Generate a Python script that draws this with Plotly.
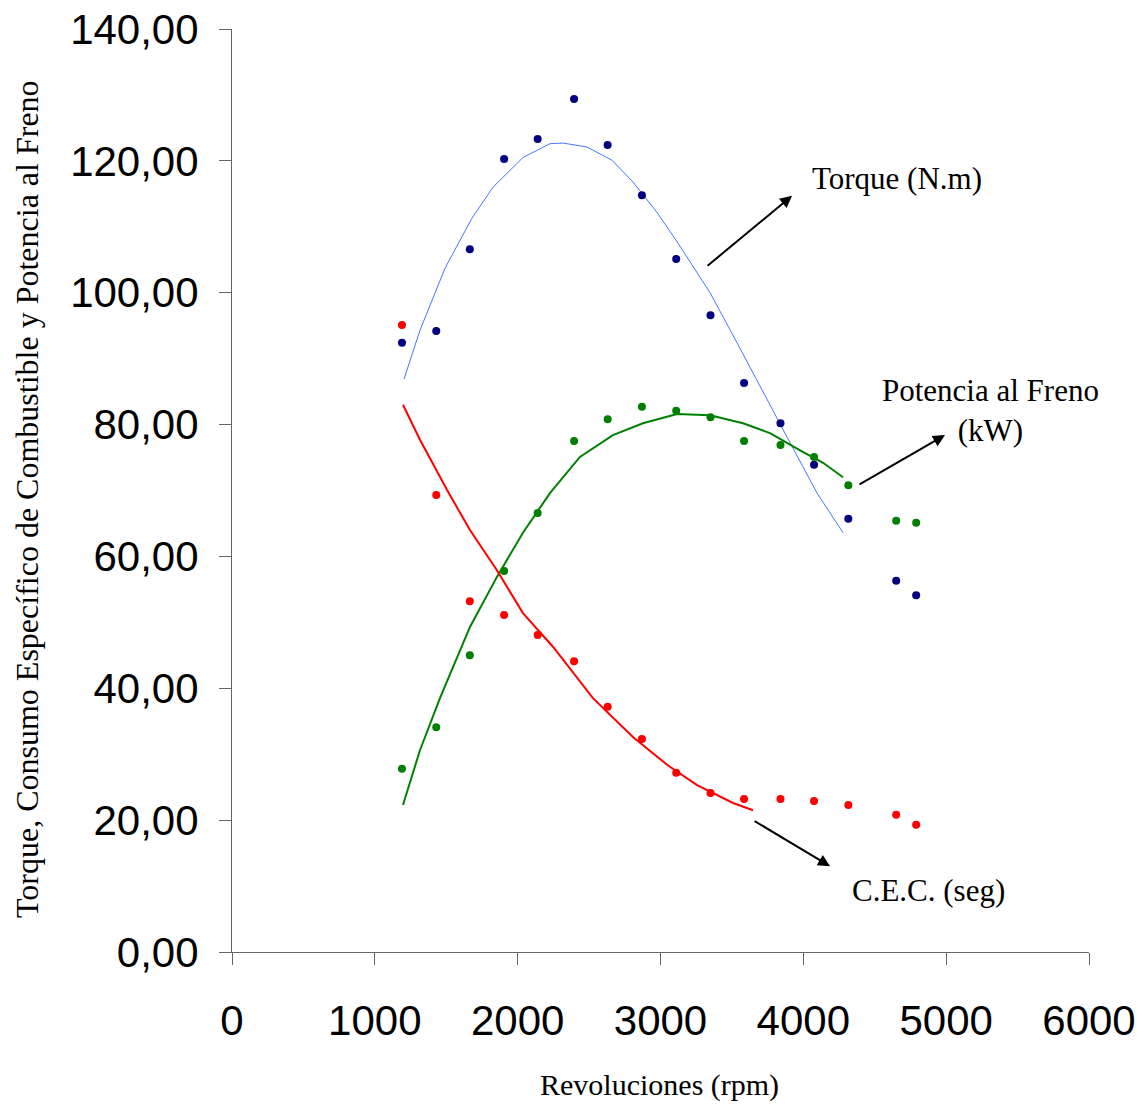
import plotly.graph_objects as go

# ---- data ----
rpm = [1190, 1430, 1665, 1905, 2140, 2395, 2630, 2870, 3110, 3350, 3585, 3840, 4075, 4315, 4650, 4790]
torque = [92.4, 94.2, 106.6, 120.3, 123.3, 129.4, 122.4, 114.8, 105.1, 96.6, 86.3, 80.2, 73.9, 65.7, 56.3, 54.1]
potencia = [27.8, 34.1, 45.0, 57.8, 66.6, 77.5, 80.8, 82.7, 82.1, 81.1, 77.5, 76.9, 75.1, 70.8, 65.4, 65.1]
cec = [95.1, 69.3, 53.2, 51.1, 48.1, 44.1, 37.2, 32.3, 27.2, 24.1, 23.2, 23.2, 22.9, 22.3, 20.8, 19.3]

# trend lines
torque_fit_x = [1204, 1316, 1491, 1680, 1827, 2037, 2226, 2317, 2485, 2660, 2807, 2975, 3123, 3347, 3536, 3746, 3886, 4096, 4278]
torque_fit_y = [86.9, 94.3, 103.7, 111.3, 116.0, 120.5, 122.6, 122.7, 122.1, 120.1, 116.8, 112.2, 107.5, 100.0, 92.4, 83.7, 78.1, 69.6, 63.6]
pot_fit_x = [1197, 1316, 1456, 1666, 1855, 2037, 2226, 2436, 2667, 2877, 3116, 3347, 3578, 3767, 3977, 4138, 4278]
pot_fit_y = [22.3, 30.6, 38.5, 49.3, 56.9, 63.6, 69.6, 75.1, 78.4, 80.2, 81.6, 81.4, 80.2, 78.7, 76.1, 74.2, 72.0]
cec_fit_x = [1197, 1316, 1505, 1666, 1855, 2037, 2247, 2527, 2807, 3046, 3256, 3508, 3648]
cec_fit_y = [83.0, 77.7, 70.1, 64.0, 57.9, 51.4, 46.3, 38.5, 32.6, 28.4, 25.3, 22.6, 21.5]

y_ticks = [0, 20, 40, 60, 80, 100, 120, 140]
y_ticktext = ["0,00", "20,00", "40,00", "60,00", "80,00", "100,00", "120,00", "140,00"]
x_ticks = [0, 1000, 2000, 3000, 4000, 5000, 6000]
x_ticktext = ["0", "1000", "2000", "3000", "4000", "5000", "6000"]

fig = go.Figure()
fig.add_trace(go.Scatter(x=torque_fit_x, y=torque_fit_y, mode="lines",
                         line=dict(color="#4477FF", width=1), showlegend=False))
fig.add_trace(go.Scatter(x=pot_fit_x, y=pot_fit_y, mode="lines",
                         line=dict(color="#008000", width=2), showlegend=False))
fig.add_trace(go.Scatter(x=cec_fit_x, y=cec_fit_y, mode="lines",
                         line=dict(color="#FF0000", width=2), showlegend=False))
fig.add_trace(go.Scatter(x=rpm, y=torque, mode="markers",
                         marker=dict(color="#000080", size=8), showlegend=False))
fig.add_trace(go.Scatter(x=rpm, y=potencia, mode="markers",
                         marker=dict(color="#008000", size=8), showlegend=False))
fig.add_trace(go.Scatter(x=rpm, y=cec, mode="markers",
                         marker=dict(color="#FF0000", size=8), showlegend=False))

serif = "Liberation Serif, Times New Roman, serif"
ann_font = dict(family=serif, size=31, color="black")

annotations = [
    dict(x=3921, y=114.7, ax=3319, ay=103.9, axref="x", ayref="y", xref="x", yref="y",
         showarrow=True, arrowhead=2, arrowsize=1.2, arrowwidth=2, arrowcolor="black", text=""),
    dict(x=4992, y=78.4, ax=4383, ay=70.8, axref="x", ayref="y", xref="x", yref="y",
         showarrow=True, arrowhead=2, arrowsize=1.2, arrowwidth=2, arrowcolor="black", text=""),
    dict(x=4187, y=13.0, ax=3648, ay=20.0, axref="x", ayref="y", xref="x", yref="y",
         showarrow=True, arrowhead=2, arrowsize=1.2, arrowwidth=2, arrowcolor="black", text=""),
    dict(x=4656, y=117.4, xref="x", yref="y", text="Torque (N.m)", showarrow=False, font=ann_font),
    dict(x=5307, y=82.1, xref="x", yref="y", text="Potencia al Freno<br>(kW)", showarrow=False,
         font=ann_font, align="center"),
    dict(x=4873, y=9.4, xref="x", yref="y", text="C.E.C. (seg)", showarrow=False, font=ann_font),
    dict(x=0.4994, y=-0.1441, xref="paper", yref="paper", text="Revoluciones (rpm)", showarrow=False,
         font=dict(family=serif, size=30, color="black"), xanchor="center", yanchor="middle"),
    dict(x=-0.2392, y=0.4908, xref="paper", yref="paper",
         text="Torque, Consumo Específico de Combustible y Potencia al Freno", showarrow=False,
         textangle=-90, font=dict(family=serif, size=32, color="black"),
         xanchor="center", yanchor="middle"),
]

fig.update_layout(
    width=1145, height=1104,
    margin=dict(l=232, r=56, t=29, b=152, autoexpand=False),
    paper_bgcolor="white", plot_bgcolor="white",
    annotations=annotations,
    xaxis=dict(range=[0, 6000], tickvals=x_ticks, ticktext=x_ticktext, automargin=False,
               showgrid=False, zeroline=False, showline=True, linecolor="#666666", linewidth=1,
               ticks="outside", ticklen=12, tickcolor="#666666",
               tickfont=dict(family="Liberation Sans, Arial, sans-serif", size=42, color="black"),
               ticklabelstandoff=20),
    yaxis=dict(range=[0, 140], tickvals=y_ticks, ticktext=y_ticktext, automargin=False,
               showgrid=False, zeroline=False, showline=True, linecolor="#666666", linewidth=1,
               ticks="outside", ticklen=12, tickcolor="#666666",
               tickfont=dict(family="Liberation Sans, Arial, sans-serif", size=42, color="black"),
               ticklabelstandoff=12),
)

fig.write_html("out.html")
